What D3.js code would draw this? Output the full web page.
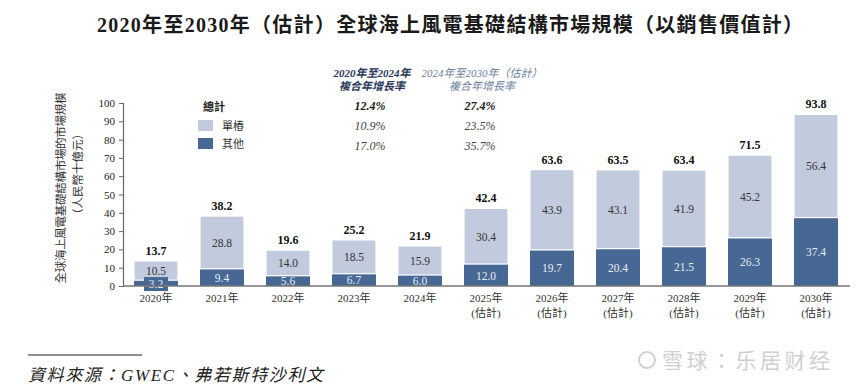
<!DOCTYPE html>
<html>
<head>
<meta charset="utf-8">
<script src="https://cdn.jsdelivr.net/npm/d3@7"></script>
<style>
  body { margin: 0; background: #fff; }
  svg text { font-family: "Liberation Serif", "Noto Sans CJK TC", serif; }
</style>
</head>
<body>
<div id="chart"></div>
<script>
// chart data
var years = ["2020年", "2021年", "2022年", "2023年", "2024年", "2025年", "2026年", "2027年", "2028年", "2029年", "2030年"];
var estimated = [false, false, false, false, false, true, true, true, true, true, true];
var monopile = [10.5, 28.8, 14.0, 18.5, 15.9, 30.4, 43.9, 43.1, 41.9, 45.2, 56.4];
var others = [3.2, 9.4, 5.6, 6.7, 6.0, 12.0, 19.7, 20.4, 21.5, 26.3, 37.4];
var totals = [13.7, 38.2, 19.6, 25.2, 21.9, 42.4, 63.6, 63.5, 63.4, 71.5, 93.8];
var yTicks = [0, 10, 20, 30, 40, 50, 60, 70, 80, 90, 100];
var cagrHeaders = [["2020年至2024年", "複合年增長率"], ["2024年至2030年（估計）", "複合年增長率"]];
var cagrRows = [["12.4%", "27.4%"], ["10.9%", "23.5%"], ["17.0%", "35.7%"]];
var legendLabels = ["總計", "單樁", "其他"];

(function() {
    var W = 856, H = 391;
    var margins = { top: 103, right: 7, bottom: 105, left: 123 };
    var width = W - margins.left - margins.right,
        height = H - margins.top - margins.bottom;
    var light = "#c1cbdd", dark = "#476894";

    var svg = d3.select("#chart").append("svg")
        .attr("width", W).attr("height", H);

    // title
    svg.append("text")
        .attr("x", 97).attr("y", 32)
        .attr("font-size", 20).attr("font-weight", "bold")
        .attr("textLength", 706).attr("lengthAdjust", "spacing")
        .attr("fill", "#1a1a1a")
        .text("2020年至2030年（估計）全球海上風電基礎結構市場規模（以銷售價值計）");

    var g = svg.append("g")
        .attr("transform", "translate(" + margins.left + "," + margins.top + ")");

    var x = d3.scaleBand().domain(years).range([0, width])
        .paddingInner(1 / 3).paddingOuter(1 / 6);
    var y = d3.scaleLinear().domain([0, 100]).range([height, 0]);

    // y axis
    var yAxis = g.append("g")
        .call(d3.axisLeft(y).tickValues(yTicks).tickSize(4).tickPadding(4));
    yAxis.select(".domain").attr("stroke", "#666").attr("stroke-width", 1.2);
    yAxis.selectAll(".tick line").attr("stroke", "#666");
    yAxis.selectAll(".tick text").attr("font-size", 11).attr("fill", "#222")
        .attr("font-family", "Liberation Serif");

    // bars
    var bars = g.selectAll(".bar").data(years).enter().append("g")
        .attr("class", "bar")
        .attr("transform", function(d) { return "translate(" + x(d) + ",0)"; });

    bars.append("rect")
        .attr("y", function(d, i) { return y(others[i]); })
        .attr("width", x.bandwidth())
        .attr("height", function(d, i) { return height - y(others[i]); })
        .attr("fill", dark);

    bars.append("rect")
        .attr("y", function(d, i) { return y(others[i] + monopile[i]); })
        .attr("width", x.bandwidth())
        .attr("height", function(d, i) { return y(others[i]) - y(others[i] + monopile[i]); })
        .attr("fill", light)
        .attr("stroke", "#fff").attr("stroke-width", 1.2);

    var bw = x.bandwidth();

    // label box for the small 2020 segment
    bars.filter(function(d, i) { return others[i] < 4; })
        .append("rect")
        .attr("x", bw / 2 - 12)
        .attr("y", function(d) { return y(others[years.indexOf(d)] / 2) - 6; })
        .attr("width", 24).attr("height", 14)
        .attr("fill", dark);

    bars.append("text")
        .attr("x", bw / 2)
        .attr("y", function(d, i) { return y(others[i] / 2) + 4.5; })
        .attr("text-anchor", "middle")
        .attr("font-size", 11.5).attr("fill", "#e8ecf3")
        .text(function(d, i) { return others[i].toFixed(1); });

    bars.append("text")
        .attr("x", bw / 2)
        .attr("y", function(d, i) { return y(others[i] + monopile[i] / 2) + 4.5; })
        .attr("text-anchor", "middle")
        .attr("font-size", 11.5).attr("fill", "#333")
        .text(function(d, i) { return monopile[i].toFixed(1); });

    bars.append("text")
        .attr("x", bw / 2)
        .attr("y", function(d, i) { return y(totals[i]) - 6; })
        .attr("text-anchor", "middle")
        .attr("font-size", 12).attr("font-weight", "bold").attr("fill", "#111")
        .text(function(d, i) { return totals[i].toFixed(1); });

    // x axis line
    g.append("line")
        .attr("x1", 0).attr("x2", width + 1)
        .attr("y1", height).attr("y2", height)
        .attr("stroke", "#777").attr("stroke-width", 1.6);

    // x labels
    bars.append("text")
        .attr("x", bw / 2).attr("y", height + 16)
        .attr("text-anchor", "middle")
        .attr("font-size", 11).attr("fill", "#333")
        .text(function(d) { return d; });
    bars.filter(function(d, i) { return estimated[i]; })
        .append("text")
        .attr("x", bw / 2).attr("y", height + 31)
        .attr("text-anchor", "middle")
        .attr("font-size", 11).attr("fill", "#333")
        .text("(估計)");

    // y axis label, two rotated lines
    svg.append("text")
        .attr("transform", "translate(65,188) rotate(-90)")
        .attr("text-anchor", "middle")
        .attr("font-size", 11.5).attr("fill", "#333")
        .attr("textLength", 191).attr("lengthAdjust", "spacing")
        .text("全球海上風電基礎結構市場的市場規模");
    svg.append("text")
        .attr("transform", "translate(82,174) rotate(-90)")
        .attr("text-anchor", "middle")
        .attr("font-size", 11.5).attr("fill", "#333")
        .text("（人民幣十億元）");

    // legend
    svg.append("text").attr("x", 203).attr("y", 111)
        .attr("font-size", 11).attr("font-weight", "bold").attr("fill", "#222")
        .text(legendLabels[0]);
    [light, dark].forEach(function(c, i) {
        svg.append("rect").attr("x", 198).attr("y", 120 + i * 18)
            .attr("width", 15).attr("height", 11).attr("fill", c);
        svg.append("text").attr("x", 222).attr("y", 130 + i * 18)
            .attr("font-size", 11).attr("fill", "#333")
            .text(legendLabels[i + 1]);
    });

    // CAGR table
    var colX = [372, 482];
    cagrHeaders.forEach(function(h, c) {
        h.forEach(function(t, r) {
            svg.append("text")
                .attr("x", colX[c]).attr("y", 77 + r * 13)
                .attr("text-anchor", "middle")
                .attr("font-size", 11).attr("font-style", "italic")
                .attr("font-weight", c === 0 ? "bold" : "normal")
                .attr("fill", c === 0 ? "#2b3a5a" : "#6d7fa0")
                .text(t);
        });
    });
    cagrRows.forEach(function(row, r) {
        row.forEach(function(t, c) {
            svg.append("text")
                .attr("x", colX[c] - 2).attr("y", 110 + r * 20)
                .attr("text-anchor", "middle")
                .attr("font-size", 12).attr("font-style", "italic")
                .attr("font-weight", r === 0 ? "bold" : "normal")
                .attr("fill", r === 0 ? "#222" : "#444")
                .text(t);
        });
    });

    // source note
    svg.append("line").attr("x1", 28).attr("x2", 142)
        .attr("y1", 355).attr("y2", 355)
        .attr("stroke", "#222").attr("stroke-width", 1);
    svg.append("text").attr("x", 28).attr("y", 381)
        .attr("font-size", 17).attr("font-style", "italic").attr("fill", "#222")
        .attr("textLength", 295).attr("lengthAdjust", "spacing")
        .text("資料來源：GWEC、弗若斯特沙利文");

    // watermark
    svg.append("circle").attr("cx", 647).attr("cy", 360).attr("r", 8)
        .attr("fill", "none").attr("stroke", "#cfcfcf").attr("stroke-width", 1.8);
    svg.append("text").attr("x", 662).attr("y", 368)
        .attr("font-size", 21).attr("fill", "#cfcfcf")
        .attr("textLength", 168).attr("lengthAdjust", "spacing")
        .attr("font-family", "Noto Sans CJK SC")
        .text("雪球：乐居财经");
})();
</script>
</body>
</html>
